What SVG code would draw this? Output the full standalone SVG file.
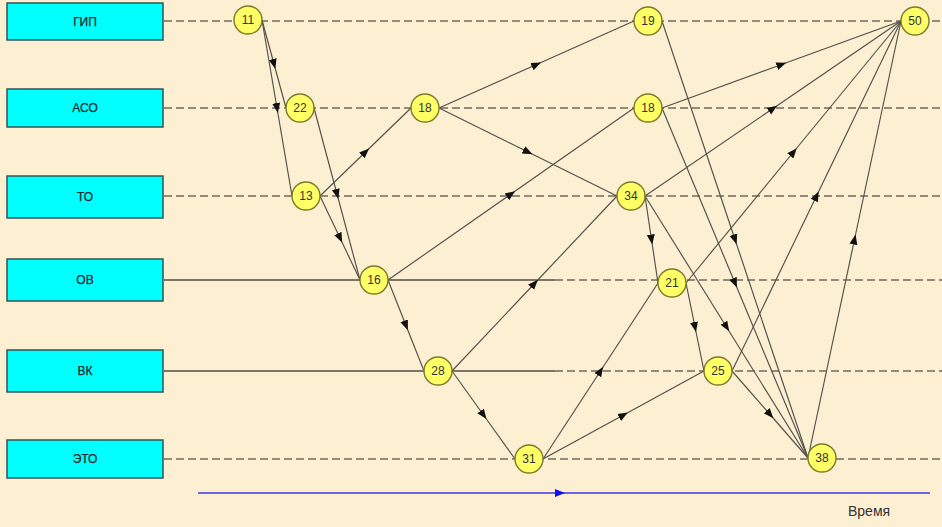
<svg xmlns="http://www.w3.org/2000/svg" width="942" height="527" viewBox="0 0 942 527">
<defs>
<marker id="ar" viewBox="0 0 10 10" refX="5" refY="5" markerWidth="10" markerHeight="10" markerUnits="userSpaceOnUse" orient="auto"><path d="M0,1 L10,5 L0,9 Z" fill="#111"/></marker>
<marker id="arb" viewBox="0 0 10 10" refX="5" refY="5" markerWidth="10" markerHeight="10" markerUnits="userSpaceOnUse" orient="auto"><path d="M0,1 L10,5 L0,9 Z" fill="#1010ee"/></marker>
</defs>
<style>
.box{fill:#00ffff;stroke:#2d5656;stroke-width:1.5}
.bl{font-family:"Liberation Sans",Arial,sans-serif;font-size:12px;fill:#1a2a2a;text-anchor:middle;stroke:#1a2a2a;stroke-width:0.25}
.nd{fill:#ffff66;stroke:#7a7a2a;stroke-width:1.4}
.nl{font-family:"Liberation Sans",Arial,sans-serif;font-size:12px;fill:#333;text-anchor:middle}
.dash{stroke:#706a5c;stroke-width:1.7;stroke-dasharray:8 4;fill:none}
.sol{stroke:#514c44;stroke-width:1.3;fill:none}
.e{stroke:#524f4a;stroke-width:1.15;fill:none;marker-mid:url(#ar)}
</style>
<rect width="942" height="527" fill="#fdf0d2"/>
<g id="rows">
<line class="dash" x1="164" y1="21" x2="942" y2="21"/>
<line class="dash" x1="164" y1="108" x2="942" y2="108"/>
<line class="dash" x1="164" y1="196" x2="942" y2="196"/>
<line class="sol" x1="164" y1="280" x2="555" y2="280"/>
<line class="dash" x1="555" y1="280" x2="942" y2="280"/>
<line class="sol" x1="164" y1="371" x2="555" y2="371"/>
<line class="dash" x1="555" y1="371" x2="942" y2="371"/>
<line class="dash" x1="164" y1="459" x2="942" y2="459"/>
</g>
<g id="box-gip"><rect class="box" x="7" y="3" width="156" height="37"/><text class="bl" x="85" y="26">ГИП</text></g>
<g id="box-aso"><rect class="box" x="7" y="89" width="156" height="38"/><text class="bl" x="85" y="112">АСО</text></g>
<g id="box-to"><rect class="box" x="7" y="176" width="156" height="42"/><text class="bl" x="85" y="201">ТО</text></g>
<g id="box-ov"><rect class="box" x="7" y="259" width="156" height="42"/><text class="bl" x="85" y="284">ОВ</text></g>
<g id="box-vk"><rect class="box" x="7" y="350" width="156" height="42"/><text class="bl" x="85" y="375">ВК</text></g>
<g id="box-eto"><rect class="box" x="7" y="440" width="156" height="38"/><text class="bl" x="85" y="463">ЭТО</text></g>
<g id="connectors">
<path class="e" d="M262,20 L274,64 L286,108"/>
<path class="e" d="M262,20 L277,108 L292,196"/>
<path class="e" d="M314,108 L337,194 L360,280"/>
<path class="e" d="M320,196 L340,238 L360,280"/>
<path class="e" d="M320,196 L365.5,152 L411,108"/>
<path class="e" d="M388,280 L511,194 L634,108"/>
<path class="e" d="M388,280 L406,325.5 L424,371"/>
<path class="e" d="M439,108 L536.5,64.5 L634,21"/>
<path class="e" d="M439,108 L528,152 L617,196"/>
<path class="e" d="M452,371 L534.5,283.5 L617,196"/>
<path class="e" d="M452,371 L483.5,415 L515,459"/>
<path class="e" d="M543,459 L600.5,371 L658,283"/>
<path class="e" d="M543,459 L623.5,415 L704,371"/>
<path class="e" d="M662,21 L735,239.5 L808,458"/>
<path class="e" d="M662,108 L735,283 L808,458"/>
<path class="e" d="M662,108 L781.5,64.5 L901,21"/>
<path class="e" d="M645,196 L773,108.5 L901,21"/>
<path class="e" d="M645,196 L651.5,239.5 L658,283"/>
<path class="e" d="M645,196 L726.5,327 L808,458"/>
<path class="e" d="M686,283 L695,327 L704,371"/>
<path class="e" d="M686,283 L793.5,152 L901,21"/>
<path class="e" d="M732,371 L770,414.5 L808,458"/>
<path class="e" d="M732,371 L816.5,196 L901,21"/>
<path class="e" d="M808,458 L854.5,239.5 L901,21"/>
</g>
<g id="n11"><circle class="nd" cx="248" cy="20" r="14"/><text class="nl" x="248" y="24">11</text></g>
<g id="n22"><circle class="nd" cx="300" cy="108" r="14"/><text class="nl" x="300" y="112">22</text></g>
<g id="n13"><circle class="nd" cx="306" cy="196" r="14"/><text class="nl" x="306" y="200">13</text></g>
<g id="n16"><circle class="nd" cx="374" cy="280" r="14"/><text class="nl" x="374" y="284">16</text></g>
<g id="n18a"><circle class="nd" cx="425" cy="108" r="14"/><text class="nl" x="425" y="112">18</text></g>
<g id="n28"><circle class="nd" cx="438" cy="371" r="14"/><text class="nl" x="438" y="375">28</text></g>
<g id="n31"><circle class="nd" cx="529" cy="459" r="14"/><text class="nl" x="529" y="463">31</text></g>
<g id="n19"><circle class="nd" cx="648" cy="21" r="14"/><text class="nl" x="648" y="25">19</text></g>
<g id="n18b"><circle class="nd" cx="648" cy="108" r="14"/><text class="nl" x="648" y="112">18</text></g>
<g id="n34"><circle class="nd" cx="631" cy="196" r="14"/><text class="nl" x="631" y="200">34</text></g>
<g id="n21"><circle class="nd" cx="672" cy="283" r="14"/><text class="nl" x="672" y="287">21</text></g>
<g id="n25"><circle class="nd" cx="718" cy="371" r="14"/><text class="nl" x="718" y="375">25</text></g>
<g id="n38"><circle class="nd" cx="822" cy="458" r="14"/><text class="nl" x="822" y="462">38</text></g>
<g id="n50"><circle class="nd" cx="915" cy="21" r="14"/><text class="nl" x="915" y="25">50</text></g>
<g id="time">
<path d="M198,493 L560,493 L930,493" stroke="#3838e8" stroke-width="1.4" fill="none" marker-mid="url(#arb)"/>
<text x="848" y="516" font-family="'Liberation Sans',Arial,sans-serif" font-size="14" fill="#333">Время</text>
</g>
</svg>
